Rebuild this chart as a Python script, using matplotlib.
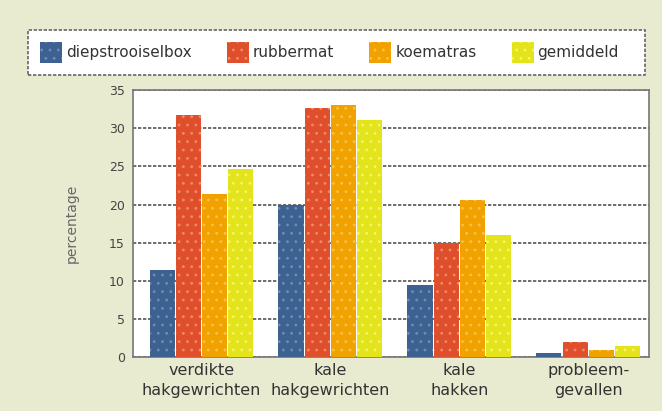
import numpy as np
import matplotlib.pyplot as plt
from matplotlib.patches import Patch, Rectangle

categories = ['verdikte\nhakgewrichten', 'kale\nhakgewrichten', 'kale\nhakken', 'probleem-\ngevallen']
series = ['diepstrooiselbox', 'rubbermat', 'koematras', 'gemiddeld']
diepstrooiselbox = [11.4, 20.0, 9.4, 0.5]
rubbermat = [31.7, 32.6, 15.0, 2.0]
koematras = [21.4, 33.1, 20.6, 1.0]
gemiddeld = [24.7, 31.1, 16.0, 1.4]

values = [diepstrooiselbox, rubbermat, koematras, gemiddeld]
colors = ['#3d6291', '#e04f2b', '#f2a200', '#e4e41c']
hatch_colors = ['#6f8db3', '#f08a6a', '#f7c24a', '#f5f56a']

bg = '#e8ebcf'
fig = plt.figure(figsize=(6.62, 4.11), dpi=100, facecolor=bg)
ax = fig.add_axes([0.201, 0.131, 0.779, 0.650])

x = np.arange(len(categories))
w = 0.195
for i, (vals, c, hc) in enumerate(zip(values, colors, hatch_colors)):
    plt.rcParams['hatch.color'] = hc
    plt.rcParams['hatch.linewidth'] = 0.8
    ax.bar(x + (i - 1.5) * (w + 0.008), vals, w, color=c, hatch='..',
           edgecolor=hc, linewidth=0, zorder=3)

ax.set_ylim(0, 35)
ax.set_xlim(-0.53, 3.47)
ax.set_yticks(range(0, 36, 5))
ax.set_xticks(x)
ax.set_xticklabels(categories, fontsize=11.5, color='#333333', linespacing=1.45)
ax.tick_params(axis='y', labelsize=9, colors='#444444', length=0, pad=6)
ax.tick_params(axis='x', length=0, pad=4)
ax.yaxis.grid(True, color='#555555', linestyle=(0, (2, 1)), linewidth=1.2, zorder=1)
for s in ax.spines.values():
    s.set_color('#777777')
    s.set_linestyle((0, (2, 1)))
    s.set_linewidth(1.2)
ax.set_ylabel('percentage', fontsize=10, color='#666666', labelpad=22)

# legend box
box = Rectangle((28 / 662, 1 - 75 / 411), 617 / 662, 45 / 411, transform=fig.transFigure,
                facecolor='white', edgecolor='#666666', linestyle=(0, (2, 1)), linewidth=1.2)
fig.patches.append(box)

handles = [Patch(facecolor=c, edgecolor=hc, hatch='..', linewidth=0) for c, hc in zip(colors, hatch_colors)]
leg = fig.legend(handles, series, ncol=4, loc='center left',
                 bbox_to_anchor=(40 / 662, 1 - 52.5 / 411),
                 fontsize=11, frameon=False,
                 handlelength=1.45, handleheight=1.7, handletextpad=0.25,
                 columnspacing=2.3, borderpad=0, borderaxespad=0)
for t in leg.get_texts():
    t.set_color('#333333')

plt.savefig('out.png', facecolor=bg)
